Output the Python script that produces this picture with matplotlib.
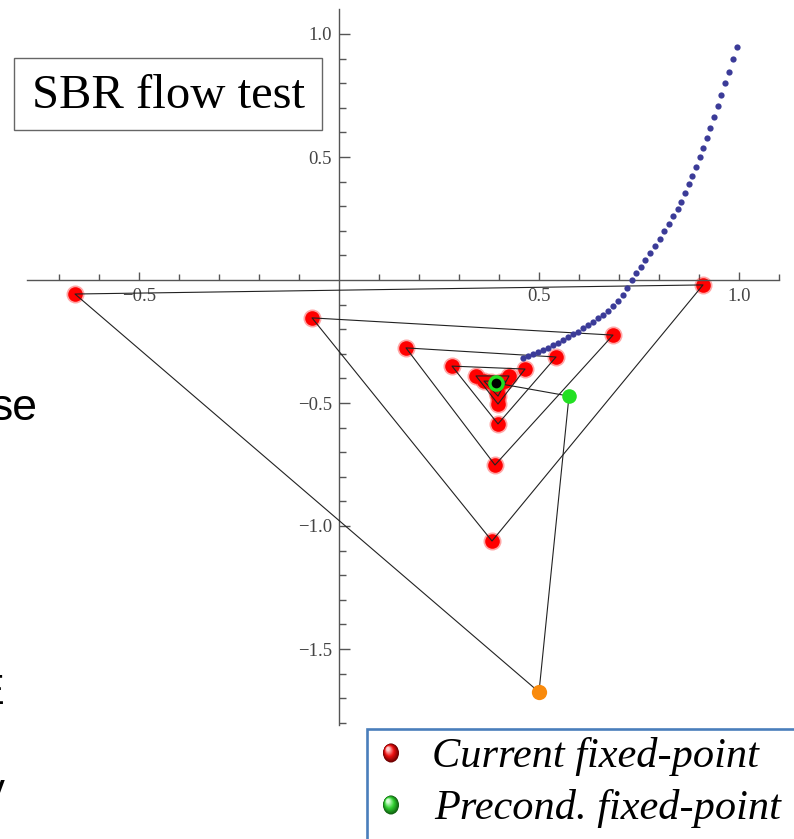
import numpy as np
import matplotlib
matplotlib.use("Agg")
import matplotlib.pyplot as plt
from matplotlib.patches import Rectangle, Ellipse

W, H = 794, 839

# iteration of the plain fixed-point map (start point first)
start = (0.5, -1.675)
cur_x = [-0.66, 0.91, 0.3825, -0.0675, 0.685, 0.39, 0.1675, 0.5425, 0.3975,
         0.2825, 0.465, 0.3975, 0.3425, 0.425, 0.3975, 0.3625, 0.415, 0.395,
         0.38, 0.402, 0.393]
cur_y = [-0.057, -0.020, -1.061, -0.154, -0.224, -0.752, -0.276, -0.313, -0.585,
         -0.350, -0.362, -0.504, -0.390, -0.390, -0.472, -0.411, -0.411, -0.455,
         -0.414, -0.414, -0.432]

# preconditioned iteration
pre_x = [0.575, 0.3925]
pre_y = [-0.472, -0.419]

# SBR flow curve
flow_x = [0.46, 0.4725, 0.485, 0.4975, 0.51, 0.5225, 0.535, 0.5475, 0.56, 0.5725,
          0.585, 0.5975, 0.61, 0.6225, 0.635, 0.6475, 0.66, 0.6725, 0.685, 0.6975,
          0.71, 0.72, 0.7325, 0.7425, 0.755, 0.765, 0.7775, 0.79, 0.8025, 0.8125,
          0.825, 0.835, 0.8475, 0.855, 0.865, 0.875, 0.8825, 0.8925, 0.9025, 0.91,
          0.92, 0.9275, 0.9375, 0.9475, 0.955, 0.965, 0.975, 0.985, 0.995]
flow_y = [-0.317, -0.309, -0.301, -0.293, -0.285, -0.276, -0.264, -0.256, -0.244, -0.232,
          -0.220, -0.211, -0.195, -0.183, -0.171, -0.154, -0.142, -0.126, -0.106, -0.085,
          -0.061, -0.033, 0.0, 0.028, 0.053, 0.081, 0.110, 0.138, 0.167, 0.199,
          0.228, 0.260, 0.289, 0.317, 0.354, 0.390, 0.423, 0.459, 0.5, 0.537,
          0.577, 0.618, 0.663, 0.707, 0.752, 0.801, 0.846, 0.898, 0.947]

xticks_major = [-0.5, 0.5, 1.0]
yticks_major = [-1.5, -1.0, -0.5, 0.5, 1.0]

fig = plt.figure(figsize=(W / 100, H / 100), dpi=100)
ax = fig.add_axes([0, 0, 1, 1])
ax.set_xlim(-339 / 400, (W - 339) / 400)
ax.set_ylim((280 - H) / 246, 280 / 246)
ax.patch.set_alpha(0)

for s in ["top", "right"]:
    ax.spines[s].set_visible(False)
for s in ["left", "bottom"]:
    ax.spines[s].set_position(("data", 0))
    ax.spines[s].set_color("#555555")
    ax.spines[s].set_linewidth(1.0)
ax.spines["bottom"].set_bounds(-0.78, 1.1)
ax.spines["left"].set_bounds(-1.81, 1.10)

ax.set_xticks(xticks_major)
ax.set_xticklabels([f"{v:.1f}".replace("-", "\u2212") for v in xticks_major])
ax.set_xticks([v / 10 for v in range(-7, 12) if v not in (-5, 0, 5, 10)], minor=True)
ax.set_yticks(yticks_major)
ax.set_yticklabels([f"{v:.1f}".replace("-", "\u2212") for v in yticks_major])
ax.set_yticks([v / 10 for v in range(-18, 11) if v not in (-15, -10, -5, 0, 5, 10)], minor=True)
ax.tick_params(axis="both", which="both", direction="in", color="#555555",
               labelcolor="#444444", labelsize=13.5, width=1.0)
ax.tick_params(axis="x", which="major", length=6, pad=6)
ax.tick_params(axis="x", which="minor", length=4)
ax.tick_params(axis="y", which="major", length=8, pad=5)
ax.tick_params(axis="y", which="minor", length=5)
for lab in ax.get_xticklabels() + ax.get_yticklabels():
    lab.set_family("Liberation Serif")

# path lines
ax.plot([start[0]] + cur_x, [start[1]] + cur_y, color="#222222", lw=0.8, zorder=3)
ax.plot([start[0]] + pre_x, [start[1]] + pre_y, color="#222222", lw=0.8, zorder=3)

# points
ax.plot(cur_x, cur_y, "o", color="#ff0000", ms=13, mew=0, alpha=0.35, zorder=2)
ax.plot(cur_x, cur_y, "o", color="#ff0000", ms=10.5, mew=0, zorder=2)
ax.plot(flow_x, flow_y, "o", color="#3b3b98", ms=4.5, mew=0, zorder=4)
ax.plot(pre_x[0], pre_y[0], "o", color="#22e022", ms=10.5, mew=0, zorder=5)
ax.plot(pre_x[1], pre_y[1], "o", color="#22e022", ms=12, mew=0, zorder=5)
ax.plot(pre_x[1], pre_y[1], "o", color="black", ms=7, mew=0, zorder=6)
ax.plot(start[0], start[1], "o", color="#f98a0c", ms=11, mew=0, zorder=5)


def frac(x, y):
    return x / W, 1 - y / H


# title box
x0, y0 = frac(14, 130)
fig.add_artist(Rectangle((x0, y0), 308 / W, 72 / H, transform=fig.transFigure,
                         facecolor="white", edgecolor="#666666", lw=1.0, zorder=10))
fig.text(*frac(168, 96), "SBR flow test", family="Liberation Serif", fontsize=35,
         ha="center", va="center", zorder=11)

# legend box
x0, y0 = frac(367, 850)
fig.add_artist(Rectangle((x0, y0), 450 / W, 121 / H, transform=fig.transFigure,
                         facecolor="white", edgecolor="#4a7ebb", lw=1.9, zorder=10))


def sphere(cx, cy, dark, mid, light):
    n = 14
    d = np.array(matplotlib.colors.to_rgb(dark))
    m = np.array(matplotlib.colors.to_rgb(mid))
    l = np.array(matplotlib.colors.to_rgb(light))
    for i in range(n):
        t = i / (n - 1)
        sc = 1 - 0.8 * t
        col = d + (m - d) * min(1, t * 2) if t < 0.5 else m + (l - m) * (t - 0.5) * 2
        ox, oy = -3 * t, -4 * t
        xc, yc = frac(cx + ox, cy + oy)
        fig.add_artist(Ellipse((xc, yc), 16 * sc / W, 19 * sc / H, transform=fig.transFigure,
                               facecolor=col, edgecolor="none", zorder=11))


sphere(391, 753, "#6a0000", "#ee1010", "#ffd0d0")
sphere(391, 805, "#106010", "#30d030", "#d8ffd8")
fig.text(*frac(432, 757), "Current fixed-point", family="Liberation Serif", style="italic",
         fontsize=30.5, ha="left", va="center", zorder=12)
fig.text(*frac(434, 809), "Precond. fixed-point", family="Liberation Serif", style="italic",
         fontsize=30.5, ha="left", va="center", zorder=12)

# slide text cut off at the left edge
fig.text(*frac(38, 408), "se", family="Liberation Sans", fontsize=32, ha="right",
         va="center")
fig.text(*frac(4, 693), "E", family="Liberation Sans", fontsize=30, ha="right",
         va="center")
fig.text(*frac(5, 792), "y", family="Liberation Sans", fontsize=30, ha="right",
         va="center")

fig.savefig("out.png", dpi=100)
